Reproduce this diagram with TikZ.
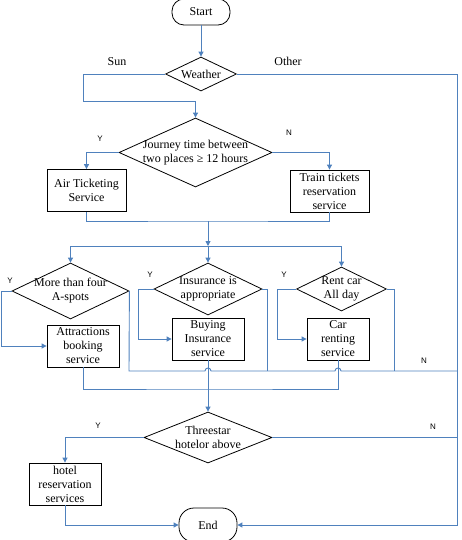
\documentclass[tikz,border=0pt]{standalone}
\usepackage{fontspec}
\setmainfont{Liberation Serif}
\setsansfont{Liberation Sans}
\usetikzlibrary{arrows.meta,shapes.geometric}
\definecolor{flowblue}{RGB}{79,129,189}
\newcommand{\dline}[1]{\makebox[0pt]{#1}}

\begin{document}
\begin{tikzpicture}[
  x=1pt, y=-1pt,
  font=\fontsize{12}{14}\selectfont,
  term/.style={rectangle, rounded corners=12pt, draw, line width=0.8pt, minimum width=58pt},
  proc/.style={rectangle, draw, line width=0.8pt, align=center, inner sep=0pt, minimum height=42pt},
  dec/.style={diamond, draw, line width=0.8pt, align=center, inner sep=0pt},
  link/.style={draw=flowblue, line width=0.9pt},
  arr/.style={link, -{Triangle[length=5pt,width=5pt]}},
  yn/.style={font=\sffamily\fontsize{8}{9}\selectfont}
]
\useasboundingbox (0,0) rectangle (462,540);

% terminals and steps
\node[term, minimum height=26pt] (start) at (201,12) {Start};
\node[dec, minimum width=71pt, minimum height=34pt] (weather) at (201,74) {\dline{Weather}};
\node[dec, minimum width=153pt, minimum height=69pt] (journey) at (195.5,152.5)
  {\dline{Journey time between}\\\dline{two places ≥ 12 hours}};
\node[proc, minimum width=79pt] (air) at (86.5,190.5) {Air Ticketing\\Service};
\node[proc, minimum width=79pt] (train) at (329.5,191) {Train tickets\\reservation\\service};

\node[dec, minimum width=117pt, minimum height=56pt] (spots) at (70.5,291)
  {\dline{More than four}\\\dline{A-spots}};
\node[dec, minimum width=108pt, minimum height=52pt] (insure) at (208,289)
  {\dline{Insurance is}\\\dline{appropriate}};
\node[dec, minimum width=90pt, minimum height=44pt] (rent) at (341.5,289)
  {\dline{Rent car}\\\dline{All day}};
\node[proc, minimum width=72pt] (attr) at (83,346) {Attractions\\booking\\service};
\node[proc, minimum width=72pt] (buy) at (208,339) {Buying\\Insurance\\service};
\node[proc, minimum width=62pt] (car) at (338,339) {Car\\renting\\service};

\node[dec, minimum width=128pt, minimum height=51pt] (three) at (208,437.5)
  {\dline{Threestar}\\\dline{hotelor above}};
\node[proc, minimum width=72pt] (hotel) at (65,484) {hotel\\reservation\\services};
\node[term, minimum height=34pt, rounded corners=15pt] (end) at (208,525) {End};

% branch labels
\node (sun) at (117,62) {Sun};
\node (other) at (288,61) {Other};
\node[yn] (y1) at (100,139) {Y};
\node[yn] (n1) at (289,133) {N};
\node[yn] (y2) at (10,281) {Y};
\node[yn] (y3) at (150,275) {Y};
\node[yn] (y4) at (284,275) {Y};
\node[yn] (n2) at (424,361) {N};
\node[yn] (y5) at (98,426) {Y};
\node[yn] (n3) at (433,427) {N};

\coordinate (join1) at (208,221);
\coordinate (split) at (208,246);
\coordinate (join2) at (208,389);

% connectors
\draw[arr] (start.south) -- (weather.north);
\draw[arr] (weather.west) -| (83,101) -| (journey.north);
\draw[arr] (weather.east) -| (457,525) -- (end.east);
\draw[arr] (journey.west) -| (air.north);
\draw[arr] (journey.east) -| (train.north);
\draw[link] (air.south) |- (join1) -| (train.south);
\draw[arr] (join1) -- (split);
\draw[arr] (split) -| (spots.north);
\draw[arr] (split) -- (insure.north);
\draw[arr] (split) -| (rent.north);

\draw[arr] (spots.west) -- (1,291) |- (attr.west);
\draw[arr] (insure.west) -- (138,289) |- (buy.west);
\draw[arr] (rent.west) -- (277,289) |- (car.west);
\draw[link] (spots.east) -- (129,371) -- (205,371) .. controls (205,367) and (211,367) .. (211,371)
  -- (335,371) .. controls (335,367) and (341,367) .. (341,371) -- (457,371);
\draw[link] (insure.east) -| (267,371);
\draw[link] (rent.east) -| (394,371);

\draw[link] (attr.south) |- (join2) -| (car.south);
\draw[arr] (buy.south) -- (three.north);
\draw[arr] (three.west) -| (hotel.north);
\draw[link] (three.east) -- (457,437.5);
\draw[arr] (hotel.south) |- (end.west);
\end{tikzpicture}
\end{document}
